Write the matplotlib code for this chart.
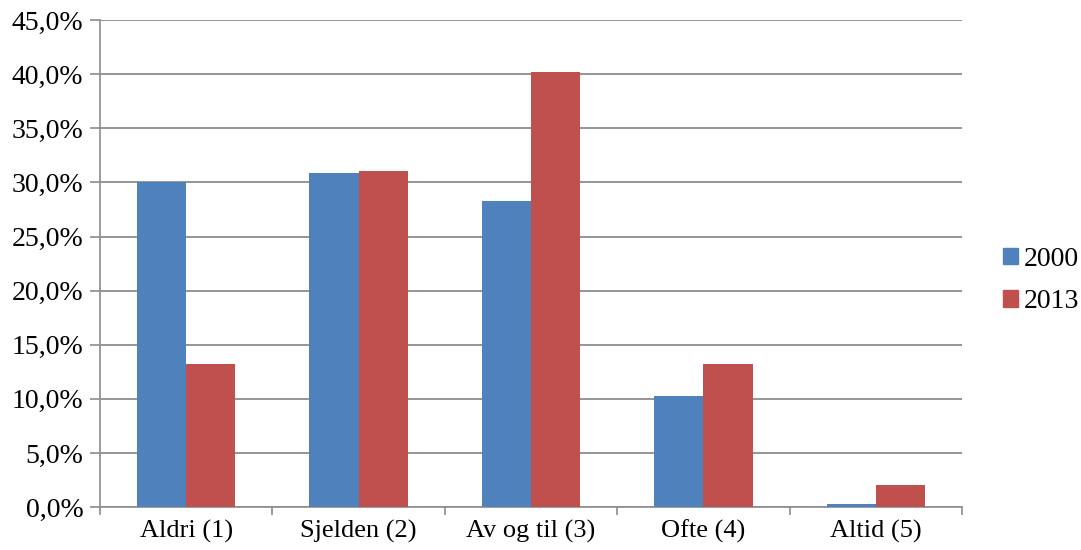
import matplotlib

matplotlib.use("Agg")
import matplotlib.pyplot as plt
import numpy as np
from matplotlib.patches import Patch

categories = ["Aldri (1)", "Sjelden (2)", "Av og til (3)", "Ofte (4)", "Altid (5)"]
series_names = ["2000", "2013"]
values_2000 = [30.0, 30.9, 28.3, 10.3, 0.3]
values_2013 = [13.2, 31.1, 40.2, 13.2, 2.0]
y_ticks = [0, 5, 10, 15, 20, 25, 30, 35, 40, 45]

BLUE = "#4F81BD"
RED = "#C0504D"
GRID = "#8C8C8C"

plt.rcParams["font.family"] = ["Liberation Serif", "DejaVu Serif"]

fig = plt.figure(figsize=(10.81, 5.5), dpi=100)
ax = fig.add_axes([0.0925, 0.078, 0.7975, 0.8855])

x = np.arange(len(categories))
width = 1 / 3.5
ax.bar(x - width / 2, values_2000, width, color=BLUE, zorder=3)
ax.bar(x + width / 2, values_2013, width, color=RED, zorder=3)

ax.set_xlim(-0.5, len(categories) - 0.5)
ax.set_ylim(0, 45)
ax.set_yticks(y_ticks)
ax.set_yticklabels([f"{t:.1f}%".replace(".", ",") for t in y_ticks], fontsize=20)

# category labels sit between the boundary ticks
ax.set_xticks(x)
ax.set_xticklabels(categories, fontsize=19)
ax.set_xticks(np.arange(len(categories) + 1) - 0.5, minor=True)
ax.tick_params(axis="x", which="major", length=0, pad=9)
ax.tick_params(axis="x", which="minor", length=6, color=GRID, width=1.2)
ax.tick_params(axis="y", length=7, color=GRID, width=1.2, pad=5)

ax.grid(axis="y", color=GRID, linewidth=1.3, zorder=0)
for side in ("top", "right"):
    ax.spines[side].set_visible(False)
for side in ("left", "bottom"):
    ax.spines[side].set_color(GRID)
    ax.spines[side].set_linewidth(1.2)

handles = [Patch(color=BLUE), Patch(color=RED)]
fig.legend(handles, series_names, loc="center left", bbox_to_anchor=(0.91, 0.49),
           frameon=False, fontsize=20, handlelength=0.55, handleheight=0.55,
           handletextpad=0.2, labelspacing=0.62, borderpad=0.2)

fig.savefig("out.png", dpi=100)
plt.close(fig)
